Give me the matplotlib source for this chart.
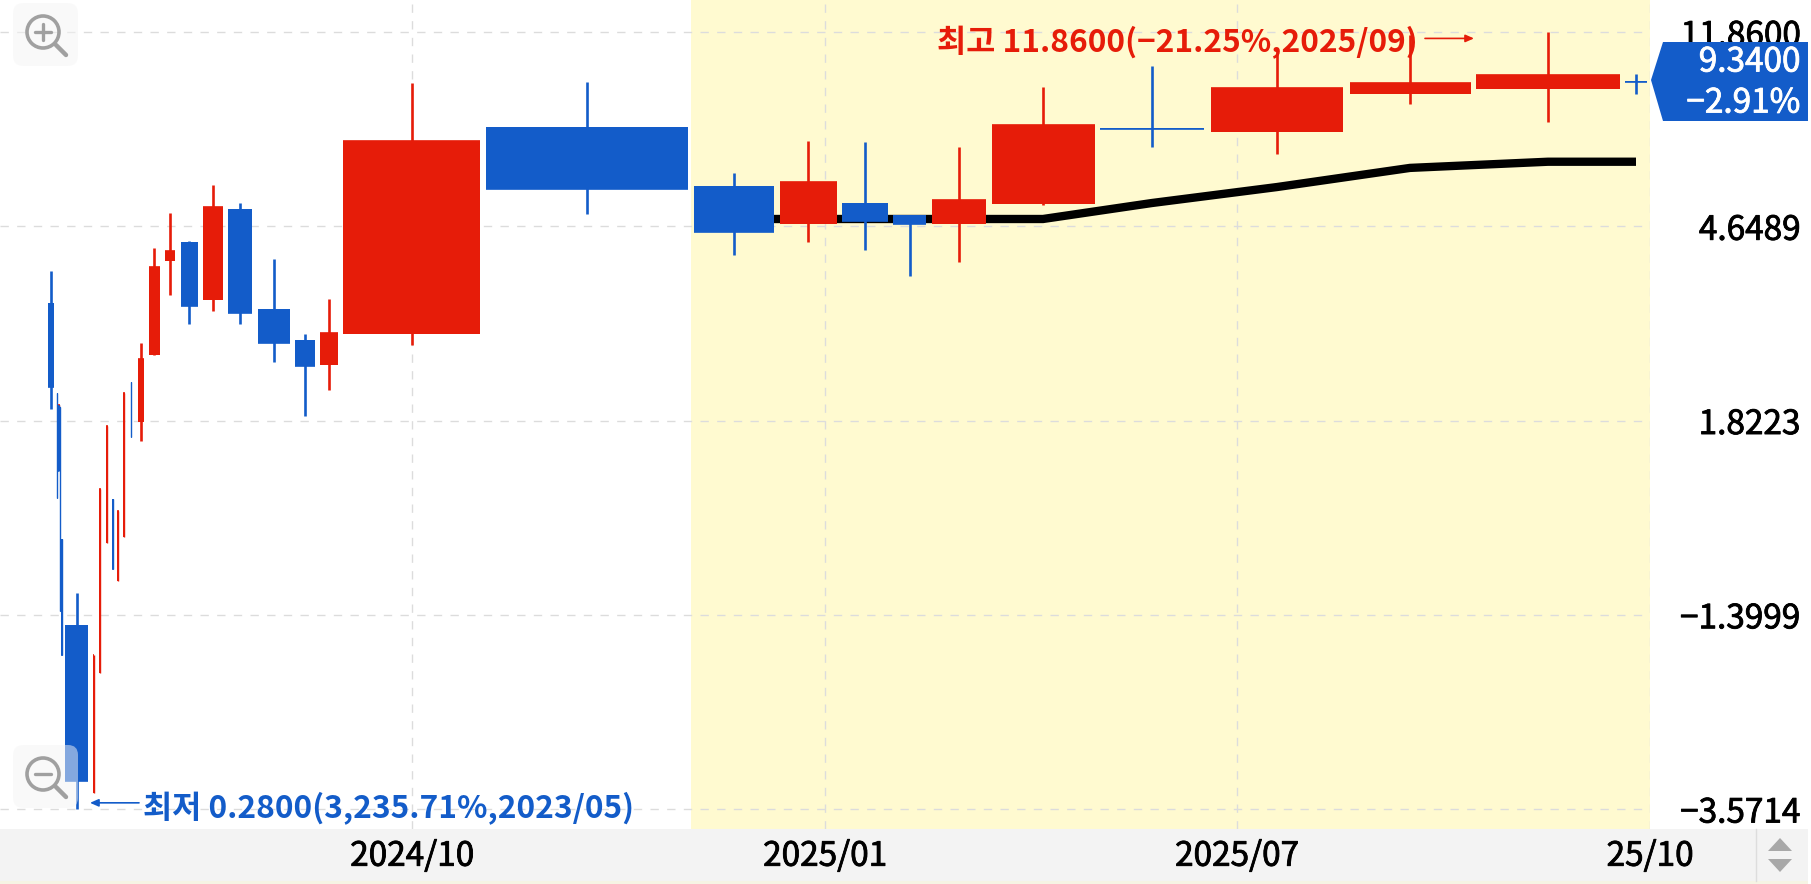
import matplotlib
matplotlib.use('Agg')
import matplotlib.pyplot as plt
import matplotlib.patheffects as pe
from matplotlib.patches import Rectangle, Polygon, Circle, FancyBboxPatch

plt.rcParams['font.family'] = ['Noto Sans CJK KR', 'DejaVu Sans']

RED = '#e61c09'
BLUE = '#135cc9'
YELLOW = '#fffad0'
GRID = '#dcdcdc'
GREY = '#a0a0a0'

# equivolume chart: each candle has its own width
centers = [50.7, 57.3, 59, 58.7, 60.3, 62, 76.7, 93.7, 100, 107, 113, 118, 124, 131.3,
           141, 154.3, 170, 189.3, 213, 240, 274, 305, 329, 411.7, 587,
           734, 808, 864.7, 909.5, 959, 1043, 1152, 1277, 1410, 1548, 1636]
widths = [6, 1.3, 1.3, 1.3, 1.3, 1.3, 22.7, 1.3, 1.6, 1.3, 1.3, 1.3, 1.8, 1.6,
          6, 10.7, 10, 17.3, 20, 24, 32, 19.5, 18.3, 137.5, 202,
          80.3, 57, 46, 33, 54.3, 103, 104.5, 132.5, 121, 144.3, 22.7]
opens = [3.211, 2.081, 1.535, 1.964, 1.945, 1.029, 0.680, 0.3025, 0.5395, 1.009, 1.248, 0.841, 1.039, 2.194,
         1.809, 2.499, 3.932, 4.31, 3.258, 5.053, 3.127, 2.686, 2.381, 2.766, 7.502,
         5.652, 4.707, 5.201, 4.909, 4.707, 5.184, 7.47, 7.334, 8.796, 8.997, 9.36]
closes = [2.142, 1.254, 1.964, 1.428, 0.727, 0.588, 0.3207, 0.588, 1.310, 1.775, 0.891, 1.178, 2.081, 1.683,
          2.451, 3.811, 4.127, 3.165, 5.102, 3.060, 2.648, 2.370, 2.779, 7.013, 5.564,
          4.529, 5.753, 4.769, 4.693, 5.277, 7.574, 7.44, 9.063, 9.288, 9.625, 9.34]
highs = [3.748, 2.081, 1.964, 1.964, 1.945, 1.029, 0.793, 0.588, 1.310, 1.775, 1.248, 1.178, 2.081, 2.194,
         2.648, 4.185, 4.968, 4.34, 5.672, 5.201, 3.962, 2.759, 3.274, 9.275, 9.32,
         6.018, 7.013, 6.99, 4.909, 6.813, 9.115, 10.07, 10.87, 11.69, 11.86, 9.686]
lows = [1.926, 1.254, 1.535, 1.428, 0.727, 0.588, 0.28, 0.3025, 0.5395, 1.009, 0.891, 0.841, 1.039, 1.683,
        1.651, 2.499, 3.337, 2.902, 3.090, 2.902, 2.416, 1.863, 2.111, 2.623, 4.932,
        4.047, 4.31, 4.147, 3.658, 3.918, 5.160, 6.823, 6.598, 8.382, 7.697, 8.783]

line_x = [734, 1043, 1152, 1277, 1410, 1548, 1636]
line_y = [4.815, 4.815, 5.201, 5.617, 6.16, 6.346, 6.346]

price_ticks = [11.86, 4.6489, 1.8223, 0.7143, 0.28]
price_labels = ['11.8600', '4.6489', '1.8223', '\u22121.3999', '\u22123.5714']
date_ticks = [412, 825, 1237, 1650]
date_labels = ['2024/10', '2025/01', '2025/07', '25/10']
shade_start = 691

W, H = 1811, 884
PLOT_W, PLOT_H = 1650, 829
FS = 24


def heavier(color):
    # the CJK family has no medium weight here, thicken the regular one a little
    return [pe.withStroke(linewidth=0.6, foreground=color)]


fig = plt.figure(figsize=(W / 100, H / 100), dpi=100)

# bottom strip behind the date labels
fig.add_artist(Rectangle((0, (H - 881) / H), 1808 / W, (881 - PLOT_H) / H, transform=fig.transFigure,
                         facecolor='#f3f3f3', edgecolor='none', zorder=-2))
fig.add_artist(Rectangle((0, 0), 1808 / W, 3 / H, transform=fig.transFigure,
                         facecolor='#f6f4e4', edgecolor='none', zorder=-2))

ax = fig.add_axes([0, 1 - PLOT_H / H, PLOT_W / W, PLOT_H / H])
ax.set_yscale('log')
ax.set_xlim(0, PLOT_W)
ax.set_ylim(0.2543, 13.84)
ax.axvspan(shade_start, PLOT_W, color=YELLOW, lw=0, zorder=0)
for s in ax.spines.values():
    s.set_visible(False)

ax.yaxis.tick_right()
ax.set_yticks(price_ticks, price_labels)
ax.minorticks_off()
ax.tick_params(axis='y', length=0, pad=108, labelsize=FS)
for lab in ax.get_yticklabels():
    lab.set_ha('right')
    lab.set_path_effects(heavier('black'))
ax.set_xticks(date_ticks, date_labels)
ax.tick_params(axis='x', length=0, pad=7, labelsize=FS)
for lab in ax.get_xticklabels():
    lab.set_path_effects(heavier('black'))
ax.grid(True, color=GRID, linestyle=(0, (6, 6)), linewidth=1, zorder=1)
ax.set_axisbelow(True)

ax.plot(line_x, line_y, color='black', linewidth=6, solid_capstyle='butt', solid_joinstyle='miter', zorder=2)

for i in range(len(centers)):
    c = RED if closes[i] >= opens[i] else BLUE
    ax.vlines(centers[i], lows[i], highs[i], color=c, linewidth=1.9 if widths[i] > 2 or i == 35 else 1.0, zorder=3)
    ax.bar(centers[i], abs(closes[i] - opens[i]), bottom=min(opens[i], closes[i]), width=widths[i],
           color=c, linewidth=0, zorder=3)
    ax.hlines(closes[i], centers[i] - widths[i] / 2, centers[i] + widths[i] / 2, color=c, linewidth=1.2, zorder=3)

ax.text(937, 11.3, '최고 11.8600(\u221221.25%,2025/09)', color=RED, fontsize=22.8, fontweight='bold',
        va='center', ha='left', zorder=5)
ax.annotate('', xy=(1474, 11.5), xytext=(1425, 11.5),
            arrowprops=dict(arrowstyle='-|>,head_length=0.5,head_width=0.22', color=RED, lw=1.2,
                            shrinkA=0, shrinkB=0))
ax.text(143, 0.2813, '최저 0.2800(3,235.71%,2023/05)', color=BLUE, fontsize=22.8, fontweight='bold',
        va='center', ha='left', zorder=5)
ax.annotate('', xy=(90, 0.2885), xytext=(139, 0.2885),
            arrowprops=dict(arrowstyle='-|>,head_length=0.5,head_width=0.22', color=BLUE, lw=1.2,
                            shrinkA=0, shrinkB=0))

# overlay for the price tag, zoom buttons and scroll arrows, in pixels
ui = fig.add_axes([0, 0, 1, 1], zorder=5)
ui.set_xlim(0, W)
ui.set_ylim(H, 0)
ui.axis('off')

ui.add_patch(Polygon([(1651, 80), (1663, 42), (1808, 42), (1808, 121), (1663, 121)], facecolor=BLUE, edgecolor='none'))
ui.text(1800, 62, '9.3400', color='white', fontsize=FS, ha='right', va='center', path_effects=heavier('white'))
ui.text(1800, 103, '\u22122.91%', color='white', fontsize=FS, ha='right', va='center', path_effects=heavier('white'))


def zoom_button(top, plus):
    ui.add_patch(FancyBboxPatch((13, top), 65, 63, boxstyle='round,pad=0,rounding_size=10',
                                facecolor='#f5f5f5', edgecolor='none', alpha=0.5))
    cy = top + 29
    ui.add_patch(Circle((43, cy), 16, facecolor='none', edgecolor=GREY, linewidth=2.6))
    ui.plot([56, 66], [cy + 13, cy + 23], color=GREY, linewidth=3.2, solid_capstyle='round')
    ui.plot([35, 51], [cy, cy], color=GREY, linewidth=2.4, solid_capstyle='round')
    if plus:
        ui.plot([43, 43], [cy - 8, cy + 8], color=GREY, linewidth=2.4, solid_capstyle='round')


zoom_button(3, True)
zoom_button(745, False)

ui.plot([1756, 1756], [PLOT_H, 881], color='#dddddd', linewidth=1)
ui.add_patch(Polygon([(1768, 851), (1780, 838), (1792, 851)], facecolor='#a8a8a8', edgecolor='none'))
ui.add_patch(Polygon([(1768, 859), (1780, 872), (1792, 859)], facecolor='#a8a8a8', edgecolor='none'))

fig.savefig('out.png', dpi=100)
